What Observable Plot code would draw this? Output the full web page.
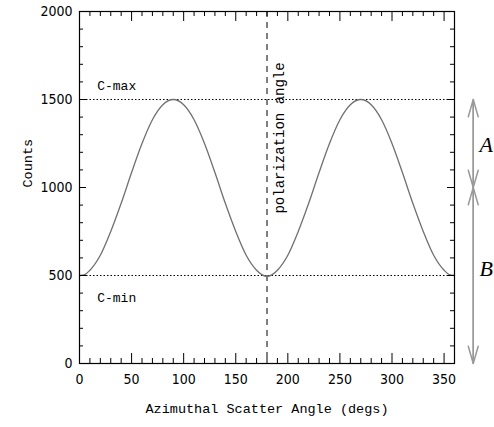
<!DOCTYPE html>
<html><head><meta charset="utf-8">
<script src="https://cdn.jsdelivr.net/npm/d3@7"></script>
<script src="https://cdn.jsdelivr.net/npm/@observablehq/plot@0.6"></script>
<style>body{margin:0;background:#fff} svg{display:block} .narrow text{font-stretch:condensed}</style>
</head><body><div id="chart"></div>
<script>
// Curve (degrees, counts)
const angles = [0,5,10,20,30,40,50,60,70,80,90,100,110,120,130,140,150,160,170,175,180,185,190,200,210,220,230,240,250,260,270,280,290,300,310,320,330,340,350,355,360];
const counts = [500,505,530,615,750,910,1085,1250,1385,1470,1500,1470,1385,1250,1085,910,750,615,530,505,495,505,530,615,750,910,1085,1250,1385,1470,1500,1470,1385,1250,1085,910,750,615,530,505,500];

const xTickLabels = [0,50,100,150,200,250,300,350];
const yTickLabels = [0,500,1000,1500,2000];
const xMinorTicks = [10,20,30,40,60,70,80,90,110,120,130,140,160,170,180,190,210,220,230,240,260,270,280,290,310,320,330,340];
const xMajorTicks = [50,100,150,200,250,300,350];
const yMinorTicks = [100,200,300,400,600,700,800,900,1100,1200,1300,1400,1600,1700,1800,1900];
const yMajorTicks = [500,1000,1500];

const refLevels = [1500,500];
const refLabels = ["C-max","C-min"];
const refLabelX = [17,17];
const refLabelY = [1575,375];

const polAngle = [180];
const polLabel = ["polarization angle"];
const polLabelX = [192];
const polLabelY = [852];

const arrowX = [378,378,378,378];
const arrowFrom = [1000,1500,0,1000];
const arrowTo = [1500,1000,1000,0];
const sideLabels = ["A","B"];
const sideLabelX = [384,384];
const sideLabelY = [1244,540];

const xTitle = "Azimuthal Scatter Angle (degs)";
const yTitle = "Counts";

const curve = angles.map((a,i)=>({a, c: counts[i]}));
const W = 494, H = 427, mL = 79, mR = 40, mT = 11, mB = 64;
const pw = W - mL - mR, ph = H - mT - mB;
const narrow = "'DejaVu Sans Condensed','Liberation Sans Narrow','DejaVu Sans',sans-serif";
const mono = "'Liberation Mono','DejaVu Sans Mono',monospace";

const chart = Plot.plot({
  width: W, height: H,
  marginLeft: mL, marginRight: mR, marginTop: mT, marginBottom: mB,
  x: {domain: [0,360]},
  y: {domain: [0,2000]},
  style: {background: "#fff", color: "#000"},
  marks: [
    Plot.ruleY(refLevels, {y: d=>d, stroke: "#000", strokeWidth: 1.2, strokeDasharray: "1.5,2"}),
    Plot.ruleX(polAngle, {x: d=>d, stroke: "#000", strokeWidth: 1, strokeDasharray: "6,5"}),
    Plot.line(curve, {x: "a", y: "c", stroke: "#707070", strokeWidth: 1.3, curve: "monotone-x"}),
    Plot.frame({stroke: "#000", strokeWidth: 1.2}),
    Plot.tickX(xMinorTicks, {x: d=>d, insetTop: ph-5, stroke: "#000"}),
    Plot.tickX(xMajorTicks, {x: d=>d, insetTop: ph-10, stroke: "#000"}),
    Plot.tickX(xMinorTicks, {x: d=>d, insetBottom: ph-5, stroke: "#000"}),
    Plot.tickX(xMajorTicks, {x: d=>d, insetBottom: ph-10, stroke: "#000"}),
    Plot.tickY(yMinorTicks, {y: d=>d, insetRight: pw-4, stroke: "#000"}),
    Plot.tickY(yMajorTicks, {y: d=>d, insetRight: pw-7, stroke: "#000"}),
    Plot.tickY(yMinorTicks, {y: d=>d, insetLeft: pw-4, stroke: "#000"}),
    Plot.tickY(yMajorTicks, {y: d=>d, insetLeft: pw-7, stroke: "#000"}),
    Plot.axisX(xTickLabels, {tickSize: 0, tickPadding: 11, label: null, tickFormat: "d", fontSize: 14, fontFamily: narrow, className: "narrow"}),
    Plot.axisY(yTickLabels, {tickSize: 0, tickPadding: 7, label: null, tickFormat: "d", fontSize: 14, fontFamily: narrow, className: "narrow"}),
    Plot.text([xTitle], {frameAnchor: "bottom", dy: 49, fontFamily: mono, fontSize: 13.5, fill: "#000"}),
    Plot.text([yTitle], {frameAnchor: "left", dx: -52, rotate: -90, fontFamily: mono, fontSize: 13.5, fill: "#000"}),
    Plot.text(refLabels, {x: (d,i)=>refLabelX[i], y: (d,i)=>refLabelY[i], text: d=>d, textAnchor: "start", fontFamily: mono, fontSize: 13, fill: "#000"}),
    Plot.text(polLabel, {x: (d,i)=>polLabelX[i], y: (d,i)=>polLabelY[i], text: d=>d, rotate: -90, textAnchor: "start", fontFamily: mono, fontSize: 14, fill: "#000"}),
    Plot.arrow(arrowFrom, {x1: (d,i)=>arrowX[i], x2: (d,i)=>arrowX[i], y1: d=>d, y2: (d,i)=>arrowTo[i], stroke: "#999", strokeWidth: 1.5, headLength: 18, headAngle: 32}),
    Plot.text(sideLabels, {x: (d,i)=>sideLabelX[i], y: (d,i)=>sideLabelY[i], text: d=>d, textAnchor: "start", fontFamily: "'Liberation Serif','DejaVu Serif',serif", fontStyle: "italic", fontSize: 22, fill: "#000"})
  ]
});
document.getElementById("chart").append(chart);
</script></body></html>
